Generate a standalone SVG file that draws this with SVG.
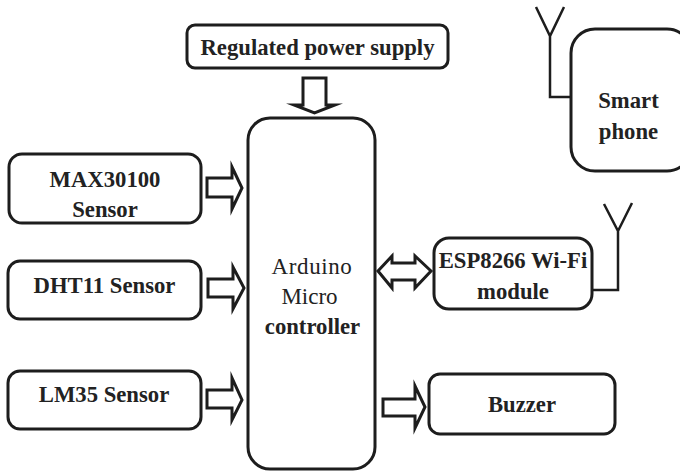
<svg xmlns="http://www.w3.org/2000/svg" width="680" height="471" viewBox="0 0 680 471">
<style>
.b{fill:#fff;stroke:#1d1d1d;stroke-width:3}
.c{fill:none;stroke:#1d1d1d;stroke-width:2.500;stroke-linejoin:miter}
.a{fill:#fff;stroke:#1d1d1d;stroke-width:3;stroke-linejoin:miter;stroke-miterlimit:12}
text{font-family:"Liberation Serif",serif;font-size:22.700px;font-weight:bold;fill:#222;text-anchor:middle}
.n{font-weight:normal;font-size:23px;letter-spacing:.6px}
.m{font-weight:normal;font-size:23px}
</style>
<rect width="680" height="471" fill="#fff"/>
<g id="connectors">
<path class="a" d="M303 78H326V105H335L314.500 113L294 105H303Z"/>
<path class="a" d="M207 178H232V167L242 188L232 209V197H207Z"/>
<path class="a" d="M208 279H233V267L244 288L233 309V297H208Z"/>
<path class="a" d="M207 390H232V378L242 400L232 420V408H207Z"/>
<path class="a" d="M378 271L392 256V263H415V256L431 271L415 288V280H392V288Z"/>
<path class="a" d="M383 399H415V386L425 407L415 428V416H383Z"/>
<path class="c" d="M536 7L550 36L564 7M550 36V97H571"/>
<path class="c" d="M604 204L618 231L632 203M618 231V290H592"/>
</g>
<g id="power"><rect class="b" x="187" y="25" width="261" height="43" rx="8"/><text x="317.500" y="55">Regulated power supply</text></g>
<g id="controller"><rect class="b" x="248" y="118" width="127" height="351" rx="22"/><text class="n" x="312" y="274">Arduino</text><text class="m" x="309.500" y="304">Micro</text><text x="312.500" y="334">controller</text></g>
<g id="max30100"><rect class="b" x="9" y="154" width="192" height="69" rx="13"/><text x="105" y="187">MAX30100</text><text x="105" y="217">Sensor</text></g>
<g id="dht11"><rect class="b" x="8" y="261" width="193" height="58" rx="12"/><text x="104.500" y="293">DHT11 Sensor</text></g>
<g id="lm35"><rect class="b" x="8" y="371" width="193" height="58" rx="12"/><text x="104" y="402">LM35 Sensor</text></g>
<g id="esp8266"><rect class="b" x="434" y="238" width="158" height="71" rx="15"/><text x="513" y="268">ESP8266 Wi-Fi</text><text x="513" y="299">module</text></g>
<g id="buzzer"><rect class="b" x="429" y="374" width="186" height="60" rx="11"/><text x="522" y="412">Buzzer</text></g>
<g id="phone"><rect class="b" x="571" y="29" width="120" height="142" rx="24"/><text x="628.500" y="108">Smart</text><text x="628.500" y="139">phone</text></g>
</svg>
